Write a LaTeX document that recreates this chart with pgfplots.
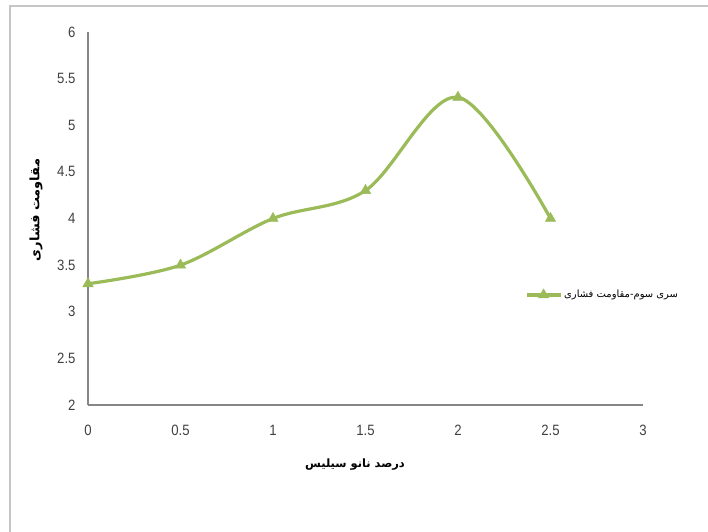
\documentclass[border=0pt]{standalone}
\usepackage{pgfplots}
\pgfplotsset{compat=1.18}
\usepackage{fontspec}
\setmainfont{Liberation Sans}
\newfontfamily\narrow[FakeStretch=0.88]{Liberation Sans}
\newfontfamily\arabicfont[Script=Arabic]{DejaVu Sans}
\TeXXeTstate=1
\definecolor{exgreen}{RGB}{155,187,89}
\definecolor{axgray}{RGB}{134,134,134}
\begin{document}
\begin{tikzpicture}[x=1bp,y=1bp]
\useasboundingbox (0,0) rectangle (708,532);
\draw[gray!45, line width=1.5bp] (10,0) -- (10,526) -- (708,526);
\begin{axis}[
  at={(88bp,127bp)}, anchor=south west,
  scale only axis, width=555bp, height=373bp,
  xmin=0, xmax=3, ymin=2, ymax=6,
  xtick={0,0.5,1,1.5,2,2.5,3},
  ytick={2,2.5,3,3.5,4,4.5,5,5.5,6},
  axis lines*=left,
  axis line style={draw=axgray, line width=1.2bp, -},
  major tick length=0pt,
  /pgf/number format/assume math mode=true,
  ticklabel style={font=\narrow\fontsize{15}{15}\selectfont, text=black!75},
  xticklabel style={yshift=-17bp},
  yticklabel style={xshift=-9bp},
  legend style={at={(0.787,0.295)}, anchor=west, draw=none, fill=none,
    font=\arabicfont\fontsize{10}{10}\selectfont, inner sep=0pt},
  legend image code/.code={\draw[mark repeat=2,mark phase=2] plot coordinates {(0bp,0bp)(17bp,0bp)(34bp,0bp)};},
]
\addplot[exgreen, line width=3.2bp, smooth, tension=0.55, mark=triangle*, mark size=6bp, mark options={fill=exgreen, line width=0.5bp}]
  coordinates {(0,3.3) (0.5,3.5) (1,4.0) (1.5,4.3) (2,5.3) (2.5,4.0)};
\addlegendentry{\beginR سری سوم-مقاومت فشاری\endR}
\end{axis}
\node[font=\arabicfont\bfseries\fontsize{11.5}{11.5}\selectfont] at (355,67) {\beginR درصد نانو سیلیس\endR};
\node[font=\arabicfont\bfseries\fontsize{13}{13}\selectfont, rotate=90] at (36,322) {\beginR مقاومت فشاری\endR};
\end{tikzpicture}
\end{document}
